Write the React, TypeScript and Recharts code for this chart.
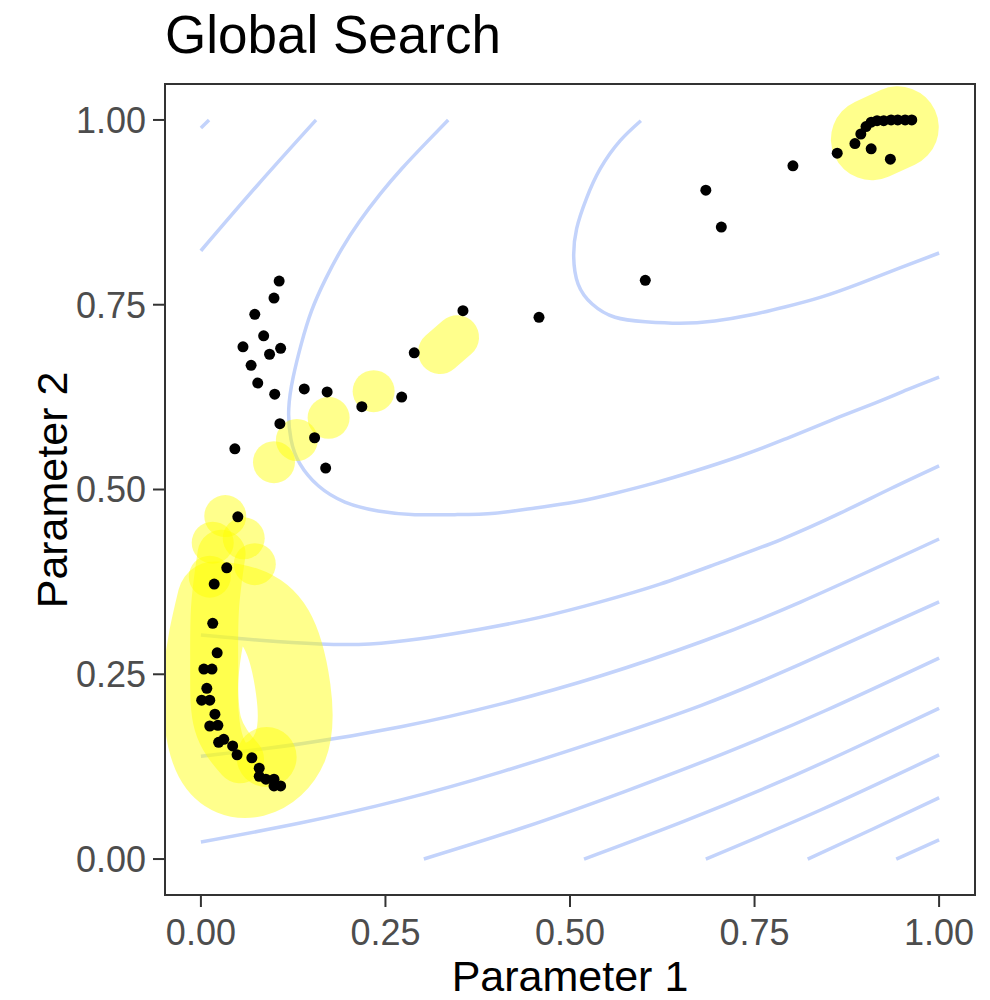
import React from "react";
import { ComposedChart, Line, Scatter, XAxis, YAxis } from "recharts";

// contour lines of the objective surface
const contour01 = [
  { x: 0.0, y: 0.989 },
  { x: 0.011, y: 1.0 },
];
const contour02 = [
  { x: 0.0, y: 0.823 },
  { x: 0.076, y: 0.911 },
  { x: 0.156, y: 1.0 },
];
const contour03 = [
  { x: 0.335, y: 1.0 },
  { x: 0.304, y: 0.968 },
  { x: 0.272, y: 0.934 },
  { x: 0.243, y: 0.9 },
  { x: 0.215, y: 0.863 },
  { x: 0.191, y: 0.826 },
  { x: 0.169, y: 0.785 },
  { x: 0.15, y: 0.742 },
  { x: 0.136, y: 0.697 },
  { x: 0.125, y: 0.652 },
  { x: 0.119, y: 0.609 },
  { x: 0.122, y: 0.568 },
  { x: 0.134, y: 0.535 },
  { x: 0.159, y: 0.505 },
  { x: 0.195, y: 0.483 },
  { x: 0.24, y: 0.471 },
  { x: 0.29, y: 0.466 },
  { x: 0.344, y: 0.466 },
  { x: 0.398, y: 0.468 },
  { x: 0.453, y: 0.475 },
  { x: 0.507, y: 0.483 },
  { x: 0.561, y: 0.495 },
  { x: 0.615, y: 0.509 },
  { x: 0.669, y: 0.525 },
  { x: 0.73, y: 0.545 },
  { x: 0.791, y: 0.568 },
  { x: 0.852, y: 0.593 },
  { x: 0.913, y: 0.617 },
  { x: 0.957, y: 0.635 },
  { x: 1.0, y: 0.652 },
];
const contour04 = [
  { x: 0.596, y: 0.999 },
  { x: 0.568, y: 0.972 },
  { x: 0.541, y: 0.934 },
  { x: 0.522, y: 0.893 },
  { x: 0.509, y: 0.853 },
  { x: 0.505, y: 0.815 },
  { x: 0.511, y: 0.778 },
  { x: 0.53, y: 0.751 },
  { x: 0.561, y: 0.733 },
  { x: 0.602, y: 0.727 },
  { x: 0.649, y: 0.725 },
  { x: 0.696, y: 0.728 },
  { x: 0.744, y: 0.736 },
  { x: 0.791, y: 0.747 },
  { x: 0.839, y: 0.76 },
  { x: 0.893, y: 0.779 },
  { x: 0.947, y: 0.8 },
  { x: 1.0, y: 0.82 },
];
const contour05 = [
  { x: 0.0, y: 0.303 },
  { x: 0.08, y: 0.296 },
  { x: 0.161, y: 0.291 },
  { x: 0.229, y: 0.291 },
  { x: 0.297, y: 0.298 },
  { x: 0.378, y: 0.311 },
  { x: 0.459, y: 0.327 },
  { x: 0.541, y: 0.348 },
  { x: 0.622, y: 0.372 },
  { x: 0.703, y: 0.401 },
  { x: 0.785, y: 0.432 },
  { x: 0.866, y: 0.468 },
  { x: 0.934, y: 0.501 },
  { x: 1.0, y: 0.532 },
];
const contour06 = [
  { x: 0.0, y: 0.139 },
  { x: 0.136, y: 0.156 },
  { x: 0.271, y: 0.179 },
  { x: 0.407, y: 0.21 },
  { x: 0.542, y: 0.248 },
  { x: 0.678, y: 0.294 },
  { x: 0.813, y: 0.348 },
  { x: 1.0, y: 0.433 },
];
const contour07 = [
  { x: 0.0, y: 0.023 },
  { x: 0.136, y: 0.049 },
  { x: 0.271, y: 0.08 },
  { x: 0.407, y: 0.118 },
  { x: 0.542, y: 0.161 },
  { x: 0.678, y: 0.208 },
  { x: 0.813, y: 0.264 },
  { x: 1.0, y: 0.348 },
];
const contour08 = [
  { x: 0.302, y: 0.0 },
  { x: 0.438, y: 0.043 },
  { x: 0.573, y: 0.091 },
  { x: 0.709, y: 0.143 },
  { x: 0.844, y: 0.2 },
  { x: 1.0, y: 0.272 },
];
const contour09 = [
  { x: 0.519, y: 0.0 },
  { x: 0.654, y: 0.051 },
  { x: 0.79, y: 0.107 },
  { x: 0.898, y: 0.156 },
  { x: 1.0, y: 0.204 },
];
const contour10 = [
  { x: 0.684, y: 0.0 },
  { x: 0.841, y: 0.067 },
  { x: 1.0, y: 0.141 },
];
const contour11 = [
  { x: 0.822, y: 0.0 },
  { x: 0.911, y: 0.041 },
  { x: 1.0, y: 0.083 },
];
const contour12 = [
  { x: 0.942, y: 0.0 },
  { x: 1.0, y: 0.026 },
];
const contours = [
  contour01, contour02, contour03, contour04, contour05, contour06,
  contour07, contour08, contour09, contour10, contour11, contour12,
];

// highlighted regions of the search path
const trackLoop = [
  { x: 0.019, y: 0.352 },
  { x: 0.0, y: 0.244 },
  { x: 0.015, y: 0.135 },
  { x: 0.073, y: 0.108 },
  { x: 0.121, y: 0.152 },
  { x: 0.125, y: 0.23 },
  { x: 0.102, y: 0.311 },
  { x: 0.06, y: 0.345 },
  { x: 0.019, y: 0.352 },
];
const trackInner = [
  { x: 0.028, y: 0.413 },
  { x: 0.019, y: 0.338 },
  { x: 0.018, y: 0.257 },
  { x: 0.023, y: 0.183 },
  { x: 0.053, y: 0.135 },
];
const trackMid = [
  { x: 0.324, y: 0.686 },
  { x: 0.347, y: 0.706 },
];
const trackEnd = [
  { x: 0.909, y: 0.974 },
  { x: 0.944, y: 0.99 },
];
const blobs = [
  { x: 0.033, y: 0.464 },
  { x: 0.016, y: 0.428 },
  { x: 0.058, y: 0.434 },
  { x: 0.012, y: 0.382 },
  { x: 0.073, y: 0.399 },
  { x: 0.099, y: 0.537 },
  { x: 0.13, y: 0.567 },
  { x: 0.173, y: 0.597 },
  { x: 0.234, y: 0.633 },
];
const bigBlobs = [{ x: 0.089, y: 0.138 }];

// evaluated parameter pairs
const points = [
  { x: 0.963, y: 1.0 }, { x: 0.954, y: 1.0 }, { x: 0.944, y: 1.0 },
  { x: 0.935, y: 1.0 }, { x: 0.925, y: 0.999 }, { x: 0.916, y: 0.999 },
  { x: 0.908, y: 0.997 }, { x: 0.901, y: 0.991 }, { x: 0.894, y: 0.981 },
  { x: 0.886, y: 0.968 }, { x: 0.908, y: 0.961 }, { x: 0.934, y: 0.947 },
  { x: 0.862, y: 0.955 }, { x: 0.802, y: 0.938 }, { x: 0.684, y: 0.905 },
  { x: 0.705, y: 0.855 }, { x: 0.602, y: 0.783 }, { x: 0.458, y: 0.733 },
  { x: 0.355, y: 0.742 }, { x: 0.289, y: 0.685 }, { x: 0.272, y: 0.625 },
  { x: 0.218, y: 0.612 }, { x: 0.171, y: 0.632 }, { x: 0.14, y: 0.636 },
  { x: 0.154, y: 0.57 }, { x: 0.169, y: 0.529 }, { x: 0.107, y: 0.589 },
  { x: 0.046, y: 0.555 }, { x: 0.106, y: 0.782 }, { x: 0.099, y: 0.759 },
  { x: 0.073, y: 0.737 }, { x: 0.085, y: 0.708 }, { x: 0.057, y: 0.693 },
  { x: 0.093, y: 0.683 }, { x: 0.108, y: 0.691 }, { x: 0.068, y: 0.668 },
  { x: 0.077, y: 0.644 }, { x: 0.1, y: 0.629 },
  { x: 0.05, y: 0.463 }, { x: 0.035, y: 0.394 }, { x: 0.018, y: 0.372 },
  { x: 0.016, y: 0.319 }, { x: 0.022, y: 0.279 }, { x: 0.004, y: 0.257 },
  { x: 0.015, y: 0.257 }, { x: 0.008, y: 0.231 }, { x: 0.001, y: 0.215 },
  { x: 0.012, y: 0.215 }, { x: 0.019, y: 0.196 }, { x: 0.012, y: 0.18 },
  { x: 0.023, y: 0.181 }, { x: 0.024, y: 0.158 }, { x: 0.031, y: 0.162 },
  { x: 0.043, y: 0.153 }, { x: 0.049, y: 0.141 }, { x: 0.069, y: 0.137 },
  { x: 0.079, y: 0.123 }, { x: 0.079, y: 0.112 }, { x: 0.088, y: 0.108 },
  { x: 0.099, y: 0.108 }, { x: 0.099, y: 0.099 }, { x: 0.108, y: 0.099 },
];

const ticks = [0, 0.25, 0.5, 0.75, 1];

const FONT = '"Liberation Sans", Arial, Helvetica, sans-serif';
const CONTOUR = "#c3d3fb";
const YELLOW = "#ffff00";
const YELLOW_ALPHA = 0.45;

const tickStyle = { fontSize: 36, fill: "#4d4d4d", fontFamily: FONT };
const tickLineStyle = { stroke: "#333333", strokeWidth: 2 };

function yellowLine(data: { x: number; y: number }[], width: number, key: string) {
  return (
    <Line
      key={key}
      data={data}
      dataKey="y"
      type="natural"
      stroke={YELLOW}
      strokeOpacity={YELLOW_ALPHA}
      strokeWidth={width}
      strokeLinecap="round"
      strokeLinejoin="round"
      dot={false}
      activeDot={false}
      isAnimationActive={false}
    />
  );
}

export default function App() {
  return (
    <div style={{ position: "relative", margin: -8, width: 990, height: 1000, background: "#fff" }}>
      <ComposedChart
        width={990}
        height={1000}
        margin={{ top: 83, right: 14, bottom: 44, left: 64 }}
      >
        <XAxis
          type="number"
          dataKey="x"
          domain={[-0.05, 1.05]}
          allowDataOverflow
          ticks={ticks}
          tickFormatter={(v: number) => v.toFixed(2)}
          height={60}
          tickSize={11}
          tickMargin={12}
          tick={tickStyle}
          tickLine={tickLineStyle}
          axisLine={false}
        />
        <YAxis
          type="number"
          dataKey="y"
          domain={[-0.05, 1.05]}
          allowDataOverflow
          ticks={ticks}
          tickFormatter={(v: number) => v.toFixed(2)}
          width={100}
          tickSize={11}
          tickMargin={7}
          tick={tickStyle}
          tickLine={tickLineStyle}
          axisLine={false}
        />
        {contours.map((c, i) => (
          <Line
            key={`contour-${i}`}
            data={c}
            dataKey="y"
            type="natural"
            stroke={CONTOUR}
            strokeWidth={3.5}
            dot={false}
            activeDot={false}
            isAnimationActive={false}
          />
        ))}
        {yellowLine(trackLoop, 75, "loop")}
        {yellowLine(trackInner, 48, "inner")}
        {yellowLine(trackMid, 44, "mid")}
        {yellowLine(trackEnd, 82, "end")}
        <Scatter
          data={blobs}
          isAnimationActive={false}
          shape={(p: any) => (
            <circle cx={p.cx} cy={p.cy} r={21} fill={YELLOW} fillOpacity={YELLOW_ALPHA} />
          )}
        />
        <Scatter
          data={bigBlobs}
          isAnimationActive={false}
          shape={(p: any) => (
            <circle cx={p.cx} cy={p.cy} r={30} fill={YELLOW} fillOpacity={YELLOW_ALPHA} />
          )}
        />
        <Scatter
          data={points}
          isAnimationActive={false}
          shape={(p: any) => <circle cx={p.cx} cy={p.cy} r={5.5} fill="#000000" />}
        />
      </ComposedChart>
      <div
        style={{
          position: "absolute",
          left: 164,
          top: 83,
          width: 812,
          height: 813,
          boxSizing: "border-box",
          border: "2px solid #333333",
          pointerEvents: "none",
        }}
      />
      <svg
        width={990}
        height={1000}
        style={{ position: "absolute", left: 0, top: 0, pointerEvents: "none" }}
      >
        <text x={165} y={53} fontSize={53} fontFamily={FONT} fill="#000">
          Global Search
        </text>
        <text x={570} y={991} fontSize={43} fontFamily={FONT} fill="#000" textAnchor="middle">
          Parameter 1
        </text>
        <text
          x={0}
          y={0}
          fontSize={43}
          fontFamily={FONT}
          fill="#000"
          textAnchor="middle"
          transform="translate(67,490) rotate(-90)"
        >
          Parameter 2
        </text>
      </svg>
    </div>
  );
}
